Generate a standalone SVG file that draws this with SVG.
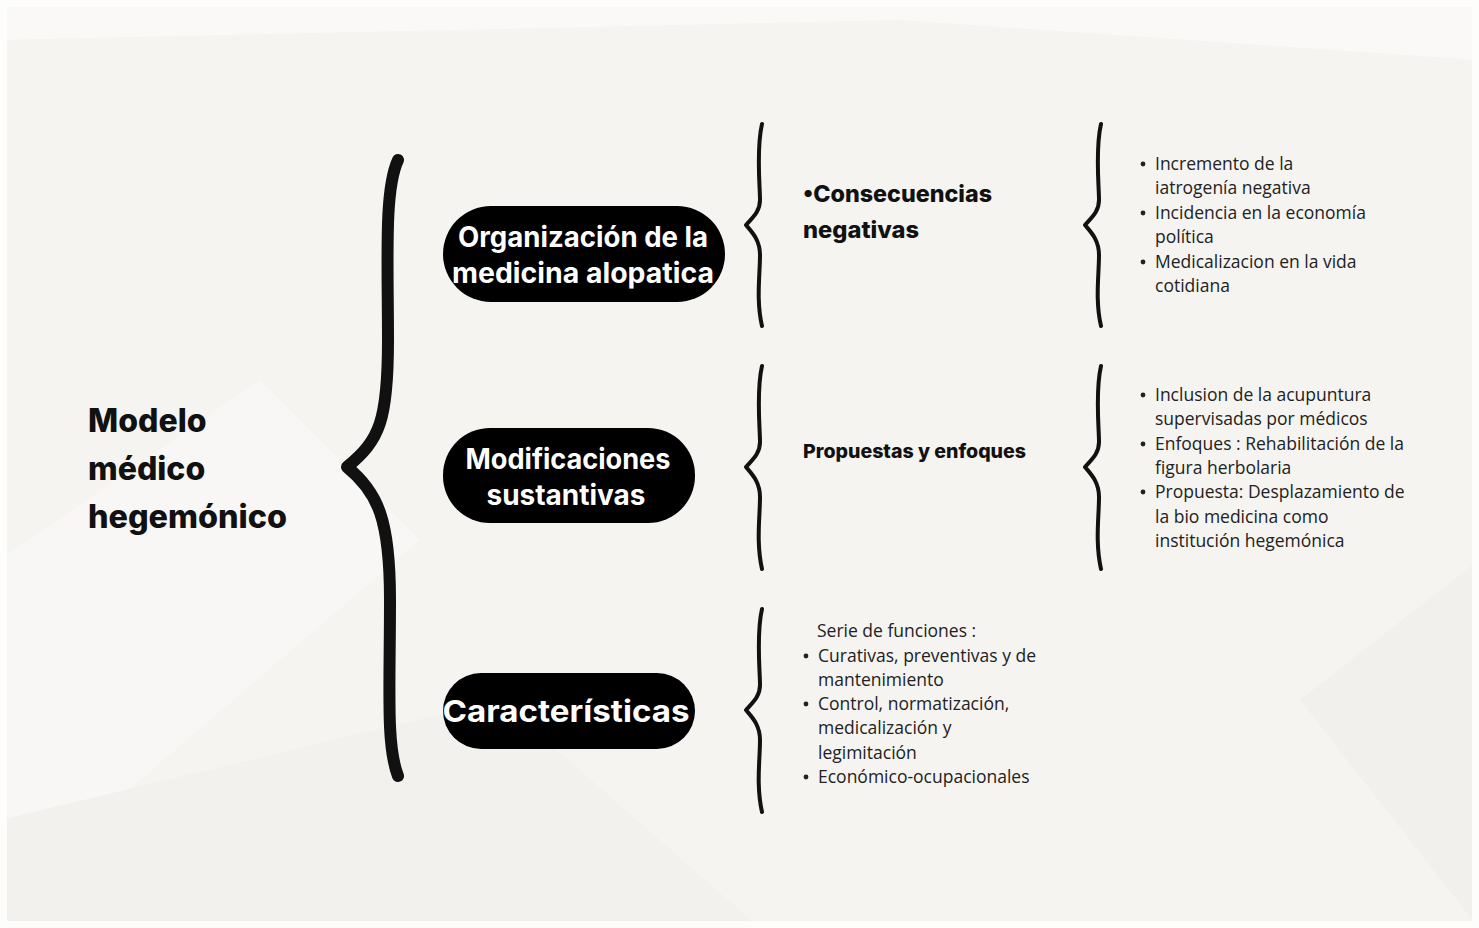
<svg xmlns="http://www.w3.org/2000/svg" width="1479" height="928" viewBox="0 0 1479 928">
<defs>
<style>
.bg{fill:#f5f4f1}
.pill{fill:#000}
.pt{font-family:Inter,"Noto Sans",sans-serif;font-weight:700;fill:#fff;text-anchor:middle}
.h{font-family:Inter,"Noto Sans",sans-serif;font-weight:800;fill:#111}
.b{font-family:"Open Sans","Noto Sans",sans-serif;font-size:17.5px;fill:#222}
.br{fill:none;stroke:#111;stroke-linecap:round;stroke-linejoin:round}
.dot{fill:#222}
</style>
</defs>
<rect class="bg" x="0" y="0" width="1479" height="928"/>
<polygon points="0,0 1479,0 1479,60 900,20 0,40" fill="#faf9f7"/>
<polygon points="0,560 260,380 420,540 0,900" fill="#f8f7f5"/>
<polygon points="1479,560 1300,700 1479,928" fill="#f1f0ed"/>
<polygon points="0,820 500,700 760,928 0,928" fill="#f2f1ee"/>
<rect x="0" y="0" width="1479" height="928" fill="none" stroke="#fdfdfc" stroke-width="14"/>

<g id="title">
<text class="h" font-size="32" x="88" y="432">Modelo</text>
<text class="h" font-size="32" x="88" y="480">médico</text>
<text class="h" font-size="32" x="88" y="528" textLength="199" lengthAdjust="spacingAndGlyphs">hegemónico</text>
</g>

<g id="connectors">
<path class="br" stroke-width="12" d="M398,160 C384,190 388,260 388,340 C388,420 380,440 347,467 C378,492 390,520 390,600 C390,690 386,745 398,776"/>
<path class="br" stroke-width="4" d="M762,124 C756,150 760,185 760,200 C760,212 752,218 746,225 C752,232 760,240 760,255 C760,275 756,300 762,326"/>
<path class="br" stroke-width="4" d="M762,366 C756,392 760,427 760,442 C760,454 752,460 746,467 C752,474 760,482 760,497 C760,517 756,542 762,569"/>
<path class="br" stroke-width="4" d="M762,609 C756,635 760,670 760,685 C760,697 752,703 746,710 C752,717 760,725 760,740 C760,760 756,785 762,812"/>
<path class="br" stroke-width="4" d="M1101,124 C1095,150 1099,185 1099,200 C1099,212 1091,218 1085,225 C1091,232 1099,240 1099,255 C1099,275 1095,300 1101,326"/>
<path class="br" stroke-width="4" d="M1101,366 C1095,392 1099,427 1099,442 C1099,454 1091,460 1085,467 C1091,474 1099,482 1099,497 C1099,517 1095,542 1101,569"/>
</g>

<g id="n-organizacion">
<rect class="pill" x="443" y="206" width="282" height="96" rx="48"/>
<text class="pt" font-size="28" x="583" y="247" textLength="250" lengthAdjust="spacingAndGlyphs">Organización de la</text>
<text class="pt" font-size="28" x="583" y="283" textLength="262" lengthAdjust="spacingAndGlyphs">medicina alopatica</text>
</g>

<g id="n-modificaciones">
<rect class="pill" x="443" y="428" width="252" height="95" rx="47"/>
<text class="pt" font-size="28" x="568" y="469" textLength="205" lengthAdjust="spacingAndGlyphs">Modificaciones</text>
<text class="pt" font-size="28" x="566" y="505" textLength="159" lengthAdjust="spacingAndGlyphs">sustantivas</text>
</g>

<g id="n-caracteristicas">
<rect class="pill" x="443" y="673" width="252" height="76" rx="38"/>
<text class="pt" font-size="30" x="566" y="722" textLength="247" lengthAdjust="spacingAndGlyphs">Características</text>
</g>

<g id="n-consecuencias">
<text class="h" font-size="23" x="803" y="202" textLength="189" lengthAdjust="spacingAndGlyphs">•Consecuencias</text>
<text class="h" font-size="23" x="803" y="238" textLength="116" lengthAdjust="spacingAndGlyphs">negativas</text>
</g>

<g id="n-propuestas">
<text class="h" font-size="19" x="803" y="458" textLength="223" lengthAdjust="spacingAndGlyphs">Propuestas y enfoques</text>
</g>

<g id="n-list1">
<circle class="dot" cx="1143" cy="164" r="2.4"/>
<circle class="dot" cx="1143" cy="213" r="2.4"/>
<circle class="dot" cx="1143" cy="262" r="2.4"/>
<text class="b" x="1155" y="170">Incremento de la</text>
<text class="b" x="1155" y="194">iatrogenía negativa</text>
<text class="b" x="1155" y="219">Incidencia en la economía</text>
<text class="b" x="1155" y="243">política</text>
<text class="b" x="1155" y="268">Medicalizacion en la vida</text>
<text class="b" x="1155" y="292">cotidiana</text>
</g>

<g id="n-list2">
<circle class="dot" cx="1143" cy="395" r="2.4"/>
<circle class="dot" cx="1143" cy="444" r="2.4"/>
<circle class="dot" cx="1143" cy="492" r="2.4"/>
<text class="b" x="1155" y="401">Inclusion de la acupuntura</text>
<text class="b" x="1155" y="425">supervisadas por médicos</text>
<text class="b" x="1155" y="450">Enfoques : Rehabilitación de la</text>
<text class="b" x="1155" y="474">figura herbolaria</text>
<text class="b" x="1155" y="498">Propuesta: Desplazamiento de</text>
<text class="b" x="1155" y="523">la bio medicina como</text>
<text class="b" x="1155" y="547">institución hegemónica</text>
</g>

<g id="n-list3">
<circle class="dot" cx="806" cy="656" r="2.4"/>
<circle class="dot" cx="806" cy="704" r="2.4"/>
<circle class="dot" cx="806" cy="777" r="2.4"/>
<text class="b" x="817" y="637">Serie de funciones :</text>
<text class="b" x="818" y="662">Curativas, preventivas y de</text>
<text class="b" x="818" y="686">mantenimiento</text>
<text class="b" x="818" y="710">Control, normatización,</text>
<text class="b" x="818" y="734">medicalización y</text>
<text class="b" x="818" y="759">legimitación</text>
<text class="b" x="818" y="783">Económico-ocupacionales</text>
</g>
</svg>
